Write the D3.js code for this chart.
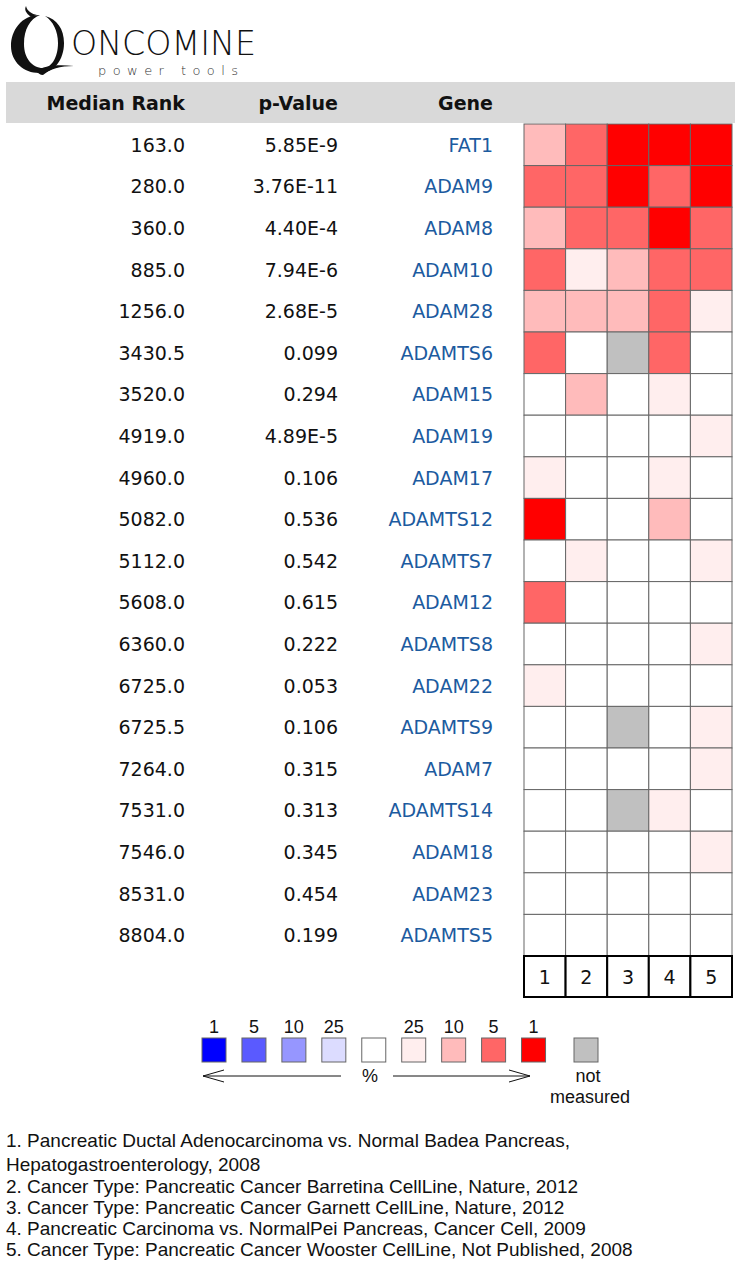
<!DOCTYPE html>
<html><head><meta charset="utf-8">
<script src="https://cdn.jsdelivr.net/npm/d3@7"></script>
<style>html,body{margin:0;padding:0;background:#fff;}svg{display:block;}</style>
</head><body>
<script>
const genes = ["FAT1","ADAM9","ADAM8","ADAM10","ADAM28","ADAMTS6","ADAM15","ADAM19","ADAM17","ADAMTS12","ADAMTS7","ADAM12","ADAMTS8","ADAM22","ADAMTS9","ADAM7","ADAMTS14","ADAM18","ADAM23","ADAMTS5"];
const medianRank = ["163.0","280.0","360.0","885.0","1256.0","3430.5","3520.0","4919.0","4960.0","5082.0","5112.0","5608.0","6360.0","6725.0","6725.5","7264.0","7531.0","7546.0","8531.0","8804.0"];
const pValues = ["5.85E-9","3.76E-11","4.40E-4","7.94E-6","2.68E-5","0.099","0.294","4.89E-5","0.106","0.536","0.542","0.615","0.222","0.053","0.106","0.315","0.313","0.345","0.454","0.199"];
const datasets = ["1","2","3","4","5"];
// over-expression percentile per dataset (0 = not significant, -1 = not measured)
const col1 = [10,5,10,5,10,5,0,0,25,1,0,5,0,25,0,0,0,0,0,0];
const col2 = [5,5,5,25,10,0,10,0,0,0,25,0,0,0,0,0,0,0,0,0];
const col3 = [1,1,5,10,10,-1,0,0,0,0,0,0,0,0,-1,0,-1,0,0,0];
const col4 = [1,5,1,5,5,5,25,0,25,10,0,0,0,0,0,0,25,0,0,0];
const col5 = [1,1,5,5,25,0,0,25,0,0,25,0,25,0,25,25,0,25,0,0];
const legendLabels = ["1","5","10","25","","25","10","5","1"];
const footnotes = [
 "1. Pancreatic Ductal Adenocarcinoma vs. Normal Badea Pancreas,",
 "Hepatogastroenterology, 2008",
 "2. Cancer Type: Pancreatic Cancer Barretina CellLine, Nature, 2012",
 "3. Cancer Type: Pancreatic Cancer Garnett CellLine, Nature, 2012",
 "4. Pancreatic Carcinoma vs. NormalPei Pancreas, Cancer Cell, 2009",
 "5. Cancer Type: Pancreatic Cancer Wooster CellLine, Not Published, 2008"
];

const redColor = {1:"#ff0000",5:"#ff6666",10:"#ffbbbb",25:"#ffeeee",0:"#ffffff","-1":"#c0c0c0"};
const legendColors = ["#0000ff","#5a5aff","#9696ff","#dcdcff","#ffffff","#ffeeee","#ffbbbb","#ff6666","#ff0000"];

const W = 741, H = 1266;
const svg = d3.select("body").append("svg").attr("width",W).attr("height",H);
const font = "'DejaVu Sans', Verdana, sans-serif";

// Logo
const logo = svg.append("g");
logo.append("path")
 .attr("fill-rule","evenodd").attr("fill","#111")
 .attr("d","M40,15 C21,15 11,31 11,46 C11,62 24,73 39,73 C54,73 64,60 64,43 C64,29 57,19 45,16 C53,21 58,31 58,43 C58,58 51,68 43,68 C32,68 24,58 24,44 C24,29 30,19 40,15 Z");
logo.append("path").attr("fill","#111")
 .attr("d","M31,17 C26,13 24,10 26,6 C27,11 32,14 37,15 Z");
logo.append("path").attr("fill","#111")
 .attr("d","M36,71 C44,66 56,64 74,66 C60,66 50,69 43,75 C40,75 38,73 36,71 Z");
logo.append("text").attr("x",71).attr("y",55).attr("font-family",font).attr("font-weight",200)
 .attr("font-size",33).attr("textLength",185).attr("lengthAdjust","spacingAndGlyphs").attr("fill","#111").text("ONCOMINE");
logo.append("text").attr("x",98).attr("y",75).attr("font-family",font).attr("font-weight",200)
 .attr("font-size",13).attr("textLength",140).attr("fill","#333").text("power tools");

// Header band
svg.append("rect").attr("x",6).attr("y",82).attr("width",729).attr("height",41).attr("fill","#d9d9d9");
const headers = [["Median Rank",185],["p-Value",338],["Gene",493]];
svg.selectAll("text.hdr").data(headers).join("text").attr("class","hdr")
 .attr("x",d=>d[1]).attr("y",110).attr("text-anchor","end").attr("font-family",font)
 .attr("font-weight","bold").attr("font-size",19).attr("fill","#111").text(d=>d[0]);

// Scales
const x = d3.scaleBand().domain(datasets).range([524,732]);
const y = d3.scaleBand().domain(genes).range([124,956]);

// Row text
const rows = svg.append("g");
genes.forEach((g,i)=>{
  const cy = y(g) + y.bandwidth()/2 + 7;
  rows.append("text").attr("x",185).attr("y",cy).attr("text-anchor","end").attr("font-family",font).attr("font-size",19).attr("fill","#111").text(medianRank[i]);
  rows.append("text").attr("x",338).attr("y",cy).attr("text-anchor","end").attr("font-family",font).attr("font-size",19).attr("fill","#111").text(pValues[i]);
  rows.append("text").attr("x",493).attr("y",cy).attr("text-anchor","end").attr("font-family",font).attr("font-size",19).attr("fill","#1c5b9f").text(g);
});

// Heatmap cells
const cols = [col1,col2,col3,col4,col5];
const cells = [];
cols.forEach((c,j)=>c.forEach((v,i)=>cells.push({gene:genes[i],ds:datasets[j],v})));
svg.append("g").selectAll("rect").data(cells).join("rect")
 .attr("x",d=>x(d.ds)).attr("y",d=>y(d.gene)).attr("width",x.bandwidth()).attr("height",y.bandwidth())
 .attr("fill",d=>redColor[d.v]).attr("stroke","#666").attr("stroke-width",1);

// Dataset labels
const lab = svg.append("g");
lab.selectAll("rect").data(datasets).join("rect")
 .attr("x",d=>x(d)).attr("y",956).attr("width",x.bandwidth()).attr("height",41)
 .attr("fill","#fff").attr("stroke","#000").attr("stroke-width",2);
lab.selectAll("text").data(datasets).join("text")
 .attr("x",d=>x(d)+x.bandwidth()/2).attr("y",984).attr("text-anchor","middle")
 .attr("font-family",font).attr("font-size",19).attr("fill","#111").text(d=>d);

// Legend
const lf = "'Liberation Sans', Arial, sans-serif";
const lx = d3.scaleBand().domain(d3.range(9)).range([202,202+38.3*9]).paddingInner(0.37);
const leg = svg.append("g");
leg.selectAll("rect").data(legendColors).join("rect")
 .attr("x",(d,i)=>lx(i)).attr("y",1038).attr("width",24).attr("height",24)
 .attr("fill",d=>d).attr("stroke","#666").attr("stroke-width",1);
leg.selectAll("text.ll").data(legendLabels).join("text").attr("class","ll")
 .attr("x",(d,i)=>lx(i)+12).attr("y",1033).attr("text-anchor","middle")
 .attr("font-family",lf).attr("font-size",18).attr("fill","#111").text(d=>d);
leg.append("rect").attr("x",574).attr("y",1038).attr("width",24).attr("height",24).attr("fill","#c0c0c0").attr("stroke","#666");
leg.append("text").attr("x",588).attr("y",1082).attr("text-anchor","middle").attr("font-family",lf).attr("font-size",18).attr("fill","#111").text("not");
leg.append("text").attr("x",590).attr("y",1103).attr("text-anchor","middle").attr("font-family",lf).attr("font-size",18).attr("fill","#111").text("measured");
leg.append("text").attr("x",370).attr("y",1082).attr("text-anchor","middle").attr("font-family",lf).attr("font-size",18).attr("fill","#111").text("%");
leg.append("path").attr("fill","none").attr("stroke","#111").attr("stroke-width",1)
 .attr("d","M341,1076 L203,1076 M224,1070 L203,1076 L224,1082");
leg.append("path").attr("fill","none").attr("stroke","#111").attr("stroke-width",1)
 .attr("d","M393,1076 L530,1076 M509,1070 L530,1076 L509,1082");

// Footnotes
const fy = [1147,1171,1193,1214,1235,1256];
svg.append("g").selectAll("text").data(footnotes).join("text")
 .attr("x",6).attr("y",(d,i)=>fy[i]).attr("font-family",lf).attr("font-size",19).attr("fill","#111").text(d=>d);
</script>
</body></html>
